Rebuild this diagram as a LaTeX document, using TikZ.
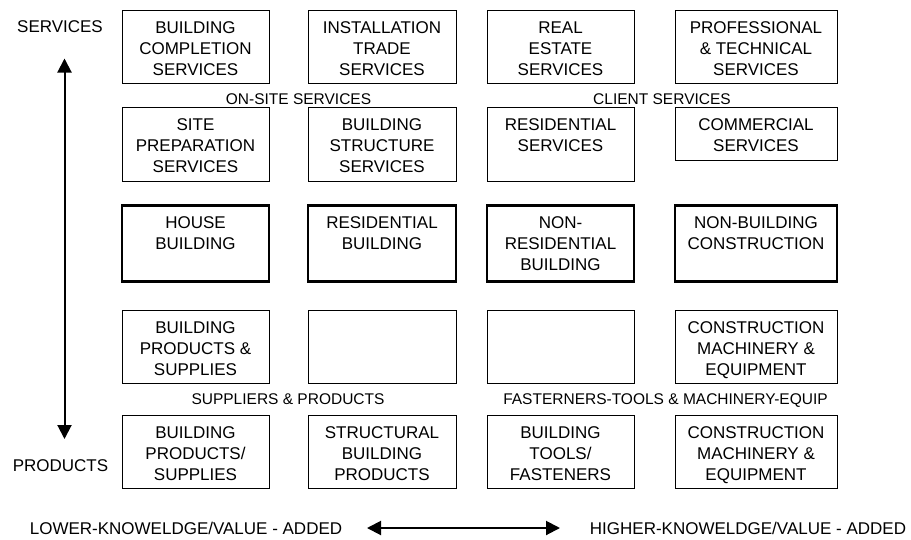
\documentclass[tikz,border=0pt]{standalone}
\usepackage{fontspec}
\setmainfont{Liberation Sans}
\usetikzlibrary{arrows.meta}

\begin{document}
\begin{tikzpicture}[x=1pt,y=-1pt,
	box/.style={draw, line width=1pt, anchor=north, inner sep=0pt, minimum width=147pt, minimum height=73pt},
	txt/.style={anchor=north, align=center, inner ysep=11.5pt, font=\fontsize{17}{21}\selectfont},
	heavy/.style={line width=2.6pt, minimum height=76pt},
	wide/.style={minimum width=162pt},
	tag/.style={anchor=base, font=\fontsize{17}{21}\selectfont},
	group/.style={anchor=base, font=\fontsize{15.5}{18}\selectfont},
	axis/.style={line width=2pt, {Triangle[length=14pt,width=14pt]}-{Triangle[length=14pt,width=14pt]}}]
			\useasboundingbox (0,0) rectangle (911,539);
			% services
			\node[box, label={[txt]north:BUILDING\\COMPLETION\\SERVICES}] (bcs) at (195.5,10) {};
			\node[box, minimum width=148pt, label={[txt]north:INSTALLATION\\TRADE\\SERVICES}] (its) at (382,10) {};
			\node[box, label={[txt]north:REAL\\ESTATE\\SERVICES}] (res) at (560.5,10) {};
			\node[box, wide, label={[txt]north:PROFESSIONAL\\\& TECHNICAL\\SERVICES}] (pts) at (756,10) {};
			\node[group] (onsite) at (298.5,104) {ON-SITE SERVICES};
			\node[group] (client) at (662,104) {CLIENT SERVICES};
			\node[box, minimum height=74pt, label={[txt]north:SITE\\PREPARATION\\SERVICES}] (sps) at (195.5,107) {};
			\node[box, minimum height=74pt, minimum width=148pt, label={[txt]north:BUILDING\\STRUCTURE\\SERVICES}] (bss) at (382,107) {};
			\node[box, minimum height=74pt, label={[txt]north:RESIDENTIAL\\SERVICES}] (rss) at (560.5,107) {};
			\node[box, wide, minimum height=53pt, label={[txt]north:COMMERCIAL\\SERVICES}] (cms) at (756,107) {};
			% construction
			\node[box, heavy, label={[txt, inner ysep=12.5pt]north:HOUSE\\BUILDING}] (hb) at (195.5,204) {};
			\node[box, heavy, minimum width=148pt, label={[txt, inner ysep=12.5pt]north:RESIDENTIAL\\BUILDING}] (rb) at (382,204) {};
			\node[box, heavy, label={[txt, inner ysep=12.5pt]north:NON-\\RESIDENTIAL\\BUILDING}] (nrb) at (560.5,204) {};
			\node[box, heavy, wide, label={[txt, inner ysep=12.5pt]north:NON-BUILDING\\CONSTRUCTION}] (nbc) at (756,204) {};
			% products
			\node[box, label={[txt]north:BUILDING\\PRODUCTS \&\\SUPPLIES}] (bps) at (195.5,310) {};
			\node[box, minimum width=148pt] (blanka) at (382,310) {};
			\node[box] (blankb) at (560.5,310) {};
			\node[box, wide, label={[txt]north:CONSTRUCTION\\MACHINERY \&\\EQUIPMENT}] (cme) at (756,310) {};
			\node[group] (suppliers) at (288,404) {SUPPLIERS \& PRODUCTS};
			\node[group] (fasteners) at (665.5,404.5) {FASTERNERS-TOOLS \& MACHINERY-EQUIP};
			\node[box, label={[txt]north:BUILDING\\PRODUCTS/\\SUPPLIES}] (bpsb) at (195.5,415) {};
			\node[box, minimum width=148pt, label={[txt]north:STRUCTURAL\\BUILDING\\PRODUCTS}] (sbp) at (382,415) {};
			\node[box, label={[txt]north:BUILDING\\TOOLS/\\FASTENERS}] (btf) at (560.5,415) {};
			\node[box, wide, label={[txt]north:CONSTRUCTION\\MACHINERY \&\\EQUIPMENT}] (cmeb) at (756,415) {};
			% axes
			\node[tag] (serv) at (60,32) {SERVICES};
			\node[tag] (prod) at (60.5,471) {PRODUCTS};
			\coordinate (up) at (64.5,58.5);
			\coordinate (down) at (64.5,439);
			\draw[axis] (down) -- (up);
			\node[tag] (lower) at (186,534) {LOWER-KNOWELDGE/VALUE - ADDED};
			\node[tag] (higher) at (748,534) {HIGHER-KNOWELDGE/VALUE - ADDED};
			\coordinate (left) at (367,528);
			\coordinate (right) at (560,528);
			\draw[axis] (left) -- (right);
		\end{tikzpicture}
\end{document}
